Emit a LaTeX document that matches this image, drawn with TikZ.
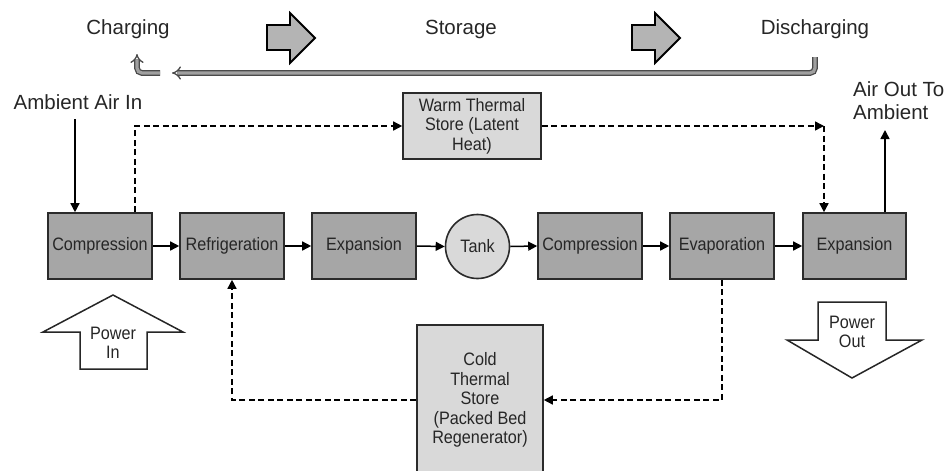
\documentclass[tikz,border=0pt]{standalone}
\usepackage{fontspec}
\setmainfont{Liberation Sans}
\newfontfamily\boxfont[FakeStretch=0.9]{Liberation Sans}
\usetikzlibrary{arrows.meta}
\definecolor{boxgray}{HTML}{A6A6A6}
\definecolor{storegray}{HTML}{D9D9D9}
\definecolor{edge}{HTML}{2B2B2B}
\definecolor{bigarrow}{HTML}{B4B4B4}
\definecolor{retout}{HTML}{4A4A4A}
\definecolor{retfill}{HTML}{A0A0A0}
\begin{document}
\begin{tikzpicture}[x=1pt,y=-1pt,
  proc/.style={draw=edge, line width=1.6pt, fill=boxgray, minimum width=104pt, minimum height=66pt, inner sep=0pt, font=\boxfont\fontsize{18}{19.5}\selectfont, text=black!85},
  store/.style={draw=edge, line width=1.6pt, fill=storegray, inner sep=0pt, align=center, font=\boxfont\fontsize{18}{19.5}\selectfont, text=black!85},
  lbl/.style={font=\fontsize{20.5}{23}\selectfont, inner sep=0pt, text=black!85},
  ptext/.style={font=\boxfont\fontsize{18}{19.5}\selectfont, inner sep=0pt, align=center, text=black!85},
  flow/.style={line width=1.5pt, -{Triangle[length=9pt,width=9pt]}},
  dflow/.style={line width=1.5pt, dash pattern=on 6pt off 3.5pt, -{Triangle[length=9pt,width=9pt]}},
  blockarrow/.style={draw=black, line width=1.8pt, fill=bigarrow, line join=miter},
  powerarrow/.style={draw=black!85, line width=1.5pt, fill=white, line join=miter},
  ret/.style={draw=retout, double=retfill, double distance=3.2pt, line width=1.3pt, rounded corners=5pt},
]
\useasboundingbox (0,0) rectangle (946,471);

% top phase labels
\node[lbl] (charging) at (128,29) {Charging};
\node[lbl] (storage) at (461,29) {Storage};
\node[lbl] (discharging) at (815,29) {Discharging};

% block arrows between phases
\draw[blockarrow] (267,25) -- (290,25) -- (290,13) -- (315,38) -- (290,63) -- (290,50) -- (267,50) -- cycle;
\draw[blockarrow] (632,25) -- (655,25) -- (655,13) -- (680,38) -- (655,63) -- (655,50) -- (632,50) -- cycle;

% return arrows
\coordinate (rs) at (815,57);
\coordinate (rc) at (815,73);
\coordinate (re) at (172,73);
\draw[ret, -{Implies}] (rs) -- (rc) -- (re);
\coordinate (bs) at (160,73);
\coordinate (bc) at (137,73);
\coordinate (be) at (137,54);
\draw[ret, -{Implies}] (bs) -- (bc) -- (be);

% process chain
\node[proc] (c1) at (100,246) {Compression};
\node[proc] (refr) at (232,246) {Refrigeration};
\node[proc] (exp1) at (364,246) {Expansion};
\node[circle, draw=edge, line width=1.6pt, fill=storegray, minimum size=64pt, inner sep=0pt, font=\boxfont\fontsize{18}{19.5}\selectfont, text=black!85] (tank) at (477.5,246.5) {Tank};
\node[proc] (c2) at (590,246) {Compression};
\node[proc] (evap) at (722,246) {Evaporation};
\node[proc, minimum width=103pt] (exp2) at (854.5,246) {Expansion};

\draw[flow] (c1.east) -- (refr.west);
\draw[flow] (refr.east) -- (exp1.west);
\draw[flow] (exp1.east) -- (tank.west);
\draw[flow] (tank.east) -- (c2.west);
\draw[flow] (c2.east) -- (evap.west);
\draw[flow] (evap.east) -- (exp2.west);

% thermal stores
\node[store, minimum width=138pt, minimum height=66pt] (warm) at (472,126) {Warm Thermal\\Store (Latent\\Heat)};
\node[store, minimum width=126pt, minimum height=150pt] (cold) at (480,400) {Cold\\Thermal\\Store\\(Packed Bed\\Regenerator)};

% ambient air
\node[lbl] (ambin) at (78,102) {Ambient Air In};
\coordinate (ain) at (75,119);
\draw[flow] (ain) -- (ain |- c1.north);
\node[lbl, align=left, anchor=west] (airout) at (853,101) {Air Out To\\Ambient};
\coordinate (aout) at (885,130);
\draw[flow] (aout |- exp2.north) -- (aout);

% dashed heat paths
\draw[dflow] ([xshift=35pt]c1.north) |- (warm.west);
\coordinate (wc) at (824,126);
\draw[dflow] (warm.east) -- (wc);
\draw[dflow] (wc) -- (wc |- exp2.north);
\draw[dflow] (evap.south) |- (cold.east);
\draw[dflow] (cold.west) -| (refr.south);

% power arrows
\draw[powerarrow] (113,295) -- (183,332) -- (147,332) -- (147,369) -- (80,369) -- (80,332) -- (43,332) -- cycle;
\node[ptext] (pin) at (113,343) {Power\\In};
\draw[powerarrow] (818,302) -- (886,302) -- (886,340) -- (922,340) -- (852,378) -- (787,340) -- (818,340) -- cycle;
\node[ptext] (pout) at (852,332) {Power\\Out};
\end{tikzpicture}
\end{document}
